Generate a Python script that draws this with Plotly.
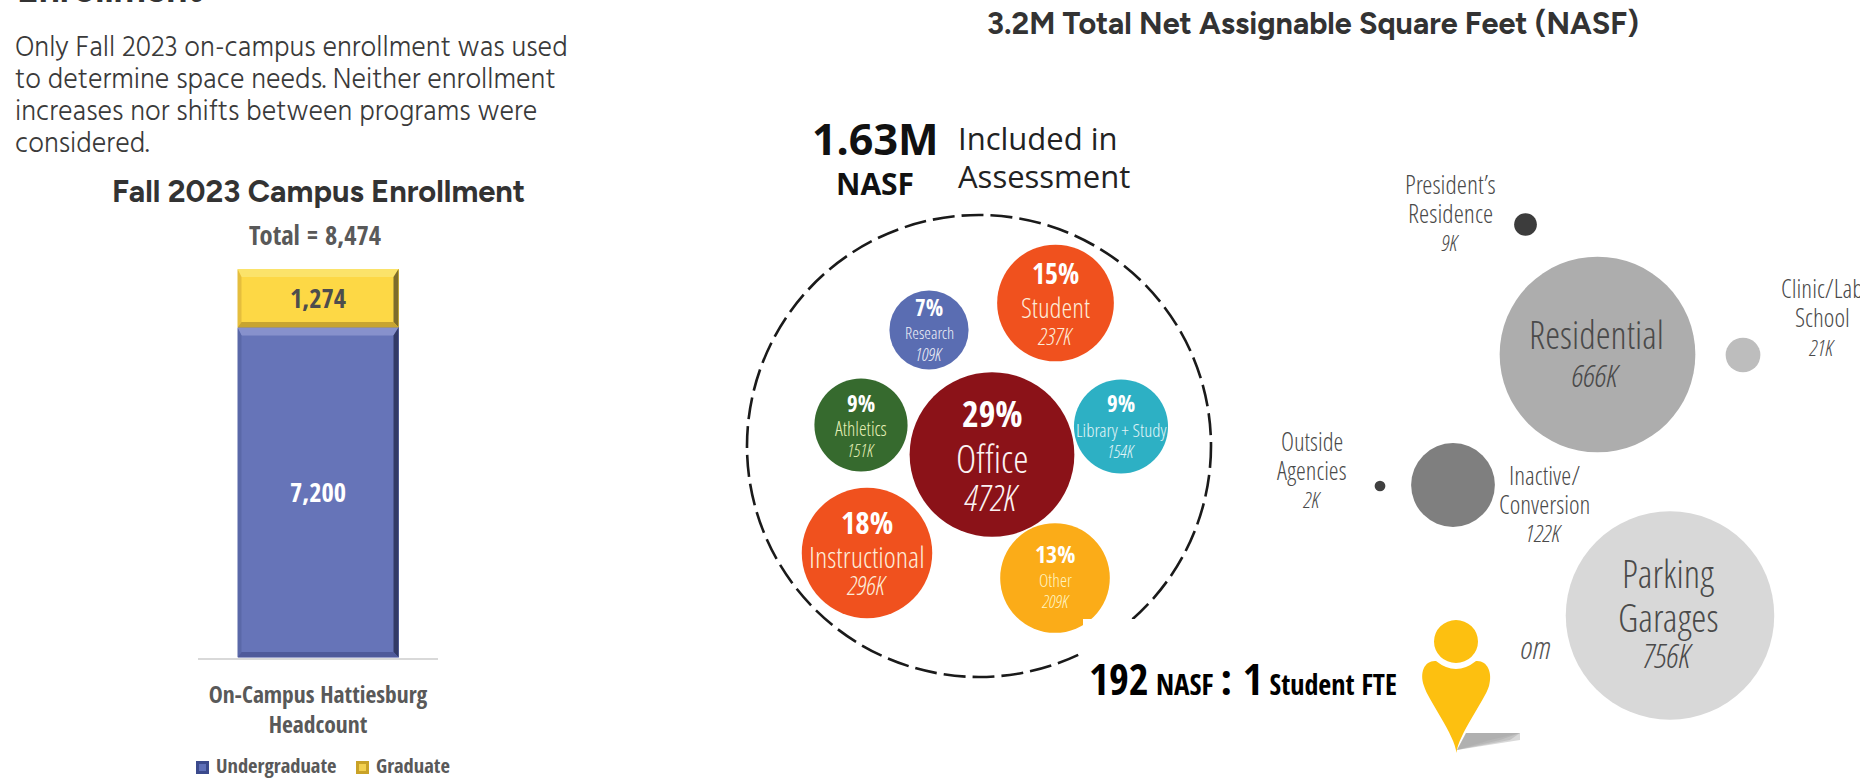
import plotly.graph_objects as go

# ---- Enrollment bar ----
categories = ["On-Campus Hattiesburg<br>Headcount"]
undergraduate = [7200]
graduate = [1274]
enrollment_total = 8474

# ---- Space inventory, thousands of NASF ----
included_names = ["Student", "Research", "Athletics", "Library + Study", "Office", "Instructional", "Other"]
included_pcts = [15, 7, 9, 9, 29, 18, 13]
included_k = [237, 109, 151, 154, 472, 296, 209]

excluded_names = ["President’s<br>Residence", "Residential", "Clinic/Lab<br>School",
                  "Outside<br>Agencies", "Inactive/<br>Conversion", "Parking<br>Garages"]
excluded_k = [9, 666, 21, 2, 122, 756]

# Bubble packing layout, in page units
included_x = [1055.5, 929, 861, 1121, 992, 867, 1055]
included_y = [303, 330, 425, 426.5, 454.5, 553, 578]
included_colors = ["#F0511E", "#5A6DB2", "#366A2E", "#2DB0C4", "#8B1218", "#F0511E", "#FBAC18"]
excluded_x = [1525.5, 1597.5, 1743, 1380, 1453, 1670]
excluded_y = [224.5, 354.5, 355, 486, 485, 615.5]
excluded_colors = ["#3C3C3C", "#ADADAD", "#BDBDBD", "#404040", "#7F7F7F", "#D8D8D8"]
AREA_PER_K = 57.5  # squared pixel diameter per thousand NASF

NARROW = "Open Sans Condensed, sans-serif"
LIGHT = "Open Sans Condensed Light, Fira Sans Condensed, sans-serif"
OPEN = "Open Sans, sans-serif"
BODY = "Hind, sans-serif"
HEAD = "Figtree, sans-serif"
GRAY = "#595959"

fig = go.Figure()

# Stacked enrollment column on its own axes
fig.add_bar(x=[0], y=undergraduate, name="Undergraduate", marker=dict(color="#6674B8", line_width=0),
            text=[f"{v:,}" for v in undergraduate], textposition="inside", insidetextanchor="middle",
            textfont=dict(family=NARROW, size=26.5, color="white", weight="bold"), showlegend=False)
fig.add_bar(x=[0], y=graduate, name="Graduate", marker=dict(color="#FDD845", line_width=0),
            text=[f"{v:,}" for v in graduate], textposition="inside", insidetextanchor="middle",
            textfont=dict(family=NARROW, size=26.5, color="#4D4D4D", weight="bold"), showlegend=False)

# Space bubbles: area is proportional to NASF
sizeref = 2 / AREA_PER_K
fig.add_scatter(x=included_x, y=included_y, xaxis="x2", yaxis="y2", mode="markers", showlegend=False,
                marker=dict(size=included_k, sizemode="area", sizeref=sizeref, color=included_colors,
                            opacity=1, line_width=0),
                hoverinfo="skip")
fig.add_scatter(x=excluded_x, y=excluded_y, xaxis="x2", yaxis="y2", mode="markers", showlegend=False,
                marker=dict(size=excluded_k, sizemode="area", sizeref=sizeref, color=excluded_colors,
                            opacity=1, line_width=0),
                hoverinfo="skip")
# Word that runs under the ratio panel; drawn in the trace layer so the panel trims it
fig.add_scatter(x=[1550], y=[651], xaxis="x2", yaxis="y2", mode="text", text=["om"], textposition="middle left",
                textfont=dict(family=LIGHT, size=32, color="#555555", style="italic", weight=300),
                showlegend=False, hoverinfo="skip")


def label(x, y, text, size, color="#444444", family=LIGHT, bold=False, italic=False,
          xanchor="center", yanchor="middle", align="center"):
    weight = "bold" if bold else (300 if family in (LIGHT, BODY) else "normal")
    fig.add_annotation(x=x, y=y, xref="x2", yref="y2", text=text, showarrow=False, xanchor=xanchor,
                       yanchor=yanchor, align=align,
                       font=dict(family=family, size=size, color=color, weight=weight,
                                 style="italic" if italic else "normal"))


# Left column headings
label(15, 13, "Enrollment", 37, "#333333", HEAD, bold=True, xanchor="left", yanchor="bottom")
intro_lines = ["Only Fall 2023 on-campus enrollment was used", "to determine space needs. Neither enrollment",
               "increases nor shifts between programs were", "considered."]
for n, line in enumerate(intro_lines):
    label(12.5, 48 + 32 * n, line, 28, "#3A3A3A", BODY, xanchor="left", align="left")
label(318.5, 191, "Fall 2023 Campus Enrollment", 30.8, "#333333", HEAD, bold=True)
label(314.5, 235, f"Total = {enrollment_total:,}", 26.5, GRAY, NARROW, bold=True)

# Manual legend
label(213.5, 765, "Undergraduate", 20.5, GRAY, NARROW, bold=True, xanchor="left")
label(373.5, 765, "Graduate", 20.5, GRAY, NARROW, bold=True, xanchor="left")

# Right panel headings
label(1313, 23, "3.2M Total Net Assignable Square Feet (NASF)", 30.5, "#333333", HEAD, bold=True)
label(875, 138, "1.63M", 43, "#111111", OPEN, bold=True)
label(875, 183, "NASF", 30, "#111111", OPEN, bold=True)
label(956, 138, "Included in", 31, "#222222", OPEN, xanchor="left")
label(956, 176, "Assessment", 31, "#222222", OPEN, xanchor="left")

# Text stack inside each included bubble: percent, name, thousands
stack_y = [(272.5, 307, 336), (306.5, 332, 354), (402.5, 428, 450), (402.5, 430, 451),
           (413, 457, 497), (521.5, 556, 585), (553.5, 580, 601)]
stack_size = [(28, 27.5, 23), (23, 17, 18), (23, 19.5, 18), (23, 19, 18), (36, 39, 36), (31, 29, 26), (24, 18, 18)]
stack_tint = ["#FDEBD8", "#EEF0F8", "#E6F0B8", "#E0F4F7", "#FBF2F2", "#FDEBD8", "#FFF4C0"]
for i, name in enumerate(included_names):
    ys, ss = stack_y[i], stack_size[i]
    label(included_x[i], ys[0], f"{included_pcts[i]}%", ss[0], "white", NARROW, bold=True)
    label(included_x[i], ys[1], name, ss[1], stack_tint[i])
    label(included_x[i], ys[2], f"{included_k[i]}K", ss[2], stack_tint[i], italic=True)

# Labels for the excluded bubbles: anchor x, y of each line, font size
excluded_label_x = [1450, 1596, 1822, 1311.5, 1544, 1668]
excluded_label_y = [(184, 213, 242), (334, 374), (288, 317, 347), (441, 470, 499), (475, 504, 532), (573, 617, 655)]
excluded_label_size = [(26, 22), (38, 32), (25.5, 22), (25, 22), (25.5, 24), (38.5, 33)]
for i, name in enumerate(excluded_names):
    parts = name.split("<br>")
    ys = excluded_label_y[i]
    for part, y in zip(parts, ys):
        label(excluded_label_x[i], y, part, excluded_label_size[i][0], "#4A4A4A")
    label(excluded_label_x[i], ys[-1], f"{excluded_k[i]}K", excluded_label_size[i][1], "#4A4A4A", italic=True)

# Ratio callout
label(1087, 678,
      '192<span style="font-size:29px"> NASF </span>: 1<span style="font-size:28px"> Student FTE</span>',
      43, "#000000", NARROW, bold=True, xanchor="left")

shapes = []
# Boundary of the space included in the assessment
shapes.append(dict(type="circle", xref="x2", yref="y2", x0=747, x1=1211, y0=215, y1=677, layer="below",
                   line=dict(color="#1A1A1A", width=2.6, dash="22px,7px")))
# White panel behind the ratio callout
shapes.append(dict(type="rect", xref="x2", yref="y2", x0=1083, x1=1521, y0=619, y1=770, layer="above",
                   fillcolor="white", line_width=0))
# Location-pin figure and its fading shadow
for k, alpha in enumerate([0.10, 0.16, 0.22, 0.28]):
    tail = 1490 + 10 * k
    shapes.append(dict(type="path", xref="x2", yref="y2", layer="above", line_width=0,
                       fillcolor=f"rgba(120,120,120,{alpha})",
                       path=f"M1457 750 L1466 733 L{tail} 733 L1520 733 L{tail} 740 Z"))
shapes.append(dict(type="path", xref="x2", yref="y2", layer="above", line_width=0, fillcolor="#FDC010",
                   path="M1456.5 753 C1455 735 1428 700 1424 686 C1419 672 1425 660 1436 661 "
                        "Q1456 677 1476 661 C1487 660 1493 672 1489 686 C1485 700 1458 735 1456.5 753 Z"))
shapes.append(dict(type="circle", xref="x2", yref="y2", layer="above", line_width=0, fillcolor="#FDC010",
                   x0=1434, x1=1478, y0=620, y1=663))
# Legend swatches
for x0, outer, inner in [(196, "#3B4A8C", "#5F70B8"), (356, "#C9A227", "#F3D04F")]:
    shapes.append(dict(type="rect", xref="x2", yref="y2", x0=x0, x1=x0 + 13, y0=761, y1=774, layer="above",
                       fillcolor=outer, line_width=0))
    shapes.append(dict(type="rect", xref="x2", yref="y2", x0=x0 + 3, x1=x0 + 10, y0=764, y1=771, layer="above",
                       fillcolor=inner, line_width=0))

# Bevelled edges on the stacked segments, placed from the data values
PX_X, PX_Y = 1 / 240, enrollment_total / 388.5
half = 0.5 * 161 / 240


def bevel(y0, y1, top, left, right, bottom, t=8, s=4, r=5, b=5.5):
    tx0, tx1 = -half + s * PX_X, half - r * PX_X
    ty0, ty1 = y0 + b * PX_Y, y1 - t * PX_Y
    for color, pts in [
        (top, [(-half, y1), (half, y1), (tx1, ty1), (tx0, ty1)]),
        (left, [(-half, y0), (tx0, ty0), (tx0, ty1), (-half, y1)]),
        (right, [(half, y0), (tx1, ty0), (tx1, ty1), (half, y1)]),
        (bottom, [(-half, y0), (half, y0), (tx1, ty0), (tx0, ty0)]),
    ]:
        path = "M" + " L".join(f"{px:.5f} {py:.2f}" for px, py in pts) + " Z"
        shapes.append(dict(type="path", xref="x", yref="y", path=path, fillcolor=color, line_width=0, layer="above"))


bevel(0, undergraduate[0], "#8791CC", "#5A68A8", "#323A66", "#4F5A9A")
bevel(undergraduate[0], enrollment_total, "#FBE36A", "#E5BE3D", "#7D6C2C", "#C7A431")

fig.update_layout(
    template="none", width=1860, height=781, margin=dict(l=0, r=0, t=0, b=0, pad=0), paper_bgcolor="white",
    plot_bgcolor="rgba(0,0,0,0)", barmode="stack", bargap=1 - 161 / 240, showlegend=False, shapes=shapes,
    xaxis=dict(domain=[198 / 1860, 438 / 1860], range=[-0.5, 0.5], tickmode="array", tickvals=[0], ticktext=categories,
               ticks="outside", ticklen=15, tickcolor="rgba(0,0,0,0)", showgrid=False, zeroline=False, showline=True,
               automargin=False, linecolor="#D9D9D9", linewidth=2,
               tickfont=dict(family=NARROW, size=23.5, color=GRAY, weight="bold")),
    yaxis=dict(domain=[1 - 657.5 / 781, 1 - 269 / 781], range=[0, enrollment_total], visible=False, automargin=False),
    xaxis2=dict(domain=[0, 1], range=[0, 1860], visible=False, anchor="y2", automargin=False),
    yaxis2=dict(domain=[0, 1], range=[781, 0], visible=False, anchor="x2", automargin=False),
)

fig.write_html("out.html")
